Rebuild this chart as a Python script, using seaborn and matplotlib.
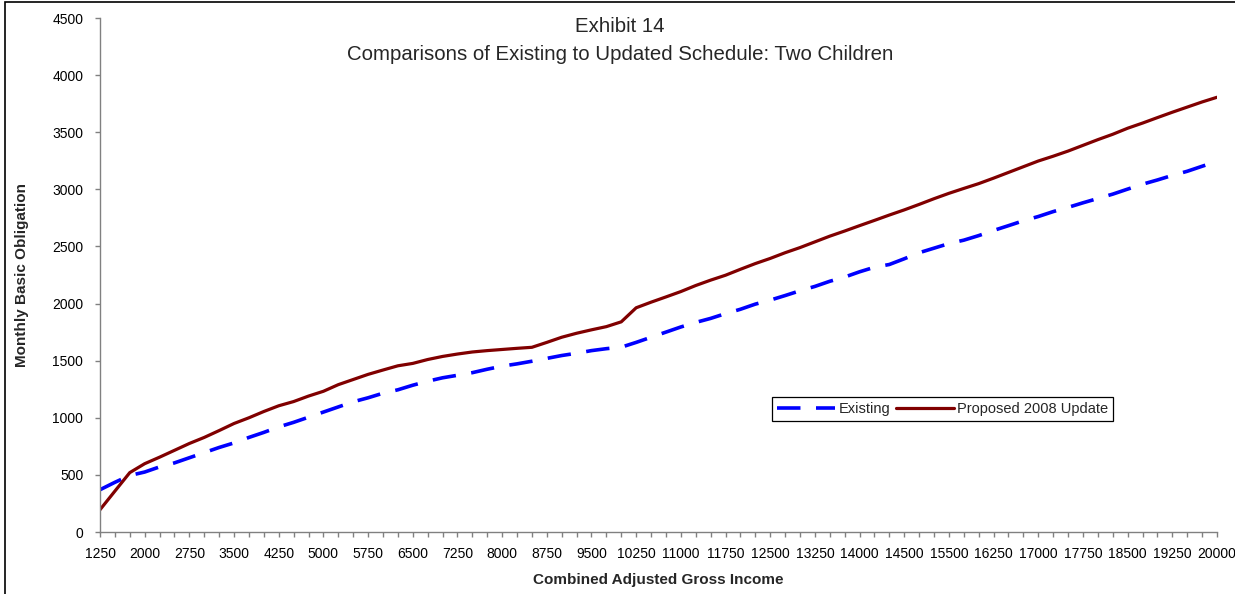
import numpy as np
import pandas as pd
import matplotlib
matplotlib.use("Agg")
import matplotlib.pyplot as plt
import seaborn as sns
from matplotlib.patches import Rectangle

# income categories (category axis, labels on every 3rd one)
income = (list(range(1250, 14001, 250))
          + [14200, 14350, 14500, 14750, 15000]
          + list(range(15500, 20001, 250)))

existing = [
    370, 435, 495, 525, 570, 605, 650, 695, 740, 780,
    828, 872, 920, 960, 1005, 1050, 1095, 1140, 1175, 1215,
    1245, 1285, 1320, 1350, 1372, 1395, 1425, 1452, 1472, 1495,
    1520, 1545, 1565, 1588, 1605, 1618, 1660, 1705, 1750, 1795,
    1835, 1870, 1912, 1950, 1995, 2030, 2070, 2112, 2150, 2195,
    2232, 2278, 2318, 2342, 2392, 2445, 2485, 2525, 2555, 2595,
    2640, 2682, 2725, 2762, 2805, 2842, 2882, 2920, 2958, 3002,
    3045, 3082, 3122, 3158, 3202, 3245,
]

proposed = [
    195, 358, 520, 598, 655, 715, 775, 828, 888, 950,
    1000, 1055, 1105, 1142, 1190, 1232, 1290, 1335, 1380, 1418,
    1455, 1476, 1510, 1537, 1558, 1576, 1588, 1598, 1608, 1617,
    1660, 1705, 1740, 1770, 1798, 1840, 1963, 2012, 2058, 2105,
    2158, 2205, 2248, 2300, 2350, 2395, 2445, 2490, 2540, 2590,
    2635, 2682, 2728, 2775, 2820, 2868, 2918, 2965, 3008, 3050,
    3098, 3148, 3198, 3248, 3290, 3335, 3385, 3435, 3482, 3535,
    3580, 3628, 3675, 3720, 3765, 3806,
]

y_ticks = list(range(0, 4501, 500))

df = pd.DataFrame({
    "pos": np.arange(len(income)),
    "income": income,
    "Existing": existing,
    "Proposed 2008 Update": proposed,
})

sns.set_style("white")
plt.rcParams["font.family"] = ["Liberation Sans", "DejaVu Sans"]

fig = plt.figure(figsize=(12.35, 5.94), dpi=100)
ax = fig.add_axes([100 / 1235, 62 / 594, 1117 / 1235, 514 / 594])

sns.lineplot(data=df, x="pos", y="Existing", ax=ax, color="#0000FF",
             linewidth=2.6, linestyle=(0, (6.5, 4.3)), label="Existing")
sns.lineplot(data=df, x="pos", y="Proposed 2008 Update", ax=ax,
             color="#800000", linewidth=2.3, label="Proposed 2008 Update")

ax.set_xlim(0, len(income) - 1)
ax.set_ylim(0, 4500)
ax.set_yticks(y_ticks)
ax.set_xticks(df["pos"],
              labels=[str(v) if i % 3 == 0 else "" for i, v in enumerate(income)])

for side in ["top", "right"]:
    ax.spines[side].set_visible(False)
for side in ["left", "bottom"]:
    ax.spines[side].set_color("#808080")
    ax.spines[side].set_linewidth(1.0)

ax.tick_params(axis="both", which="major", direction="out", length=3.6,
               width=1.0, color="#808080", labelsize=10, labelcolor="black")
ax.tick_params(axis="y", left=True, pad=8.5)
ax.tick_params(axis="x", bottom=True, pad=7)

ax.set_xlabel("Combined Adjusted Gross Income", fontsize=11, fontweight="bold")
ax.set_ylabel("Monthly Basic Obligation", fontsize=11, fontweight="bold")
ax.yaxis.set_label_coords(-71 / 1117, 0.5)
ax.xaxis.set_label_coords(0.5, -(573 - 532) / 514)

fig.text(620 / 1235, 1 - 27 / 594, "Exhibit 14", ha="center", va="center",
         fontsize=14.7)
fig.text(620 / 1235, 1 - 55 / 594,
         "Comparisons of Existing to Updated Schedule: Two Children",
         ha="center", va="center", fontsize=14.7)

leg = ax.legend(loc="upper left", bbox_to_anchor=(772 / 1235, 1 - 397 / 594),
                bbox_transform=fig.transFigure, ncol=2, fontsize=10.5,
                frameon=True, fancybox=False, framealpha=1, edgecolor="black",
                handlelength=4.0, handletextpad=0.2, columnspacing=0.4,
                borderpad=0.35, borderaxespad=0)
leg.get_frame().set_linewidth(0.9)

# outer chart border (cropped on right and bottom)
fig.add_artist(Rectangle((5 / 1235, -0.1), 1.2, 1.1 - 2 / 594,
                         transform=fig.transFigure, fill=False,
                         edgecolor="black", linewidth=1.2, clip_on=False))

fig.savefig("out.png", dpi=100)
